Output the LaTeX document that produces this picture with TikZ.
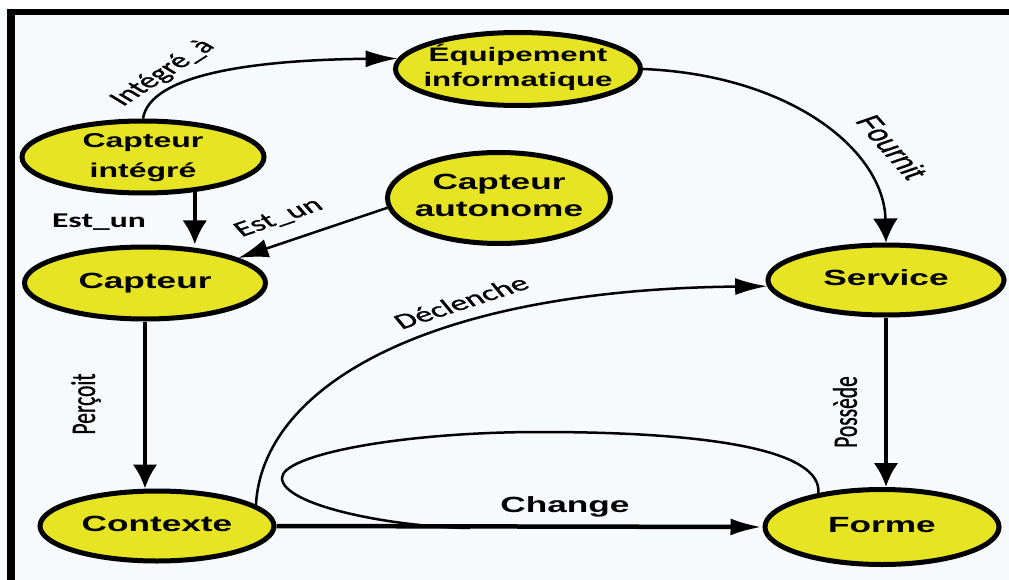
\documentclass[tikz,border=0pt]{standalone}
\usepackage{fontspec}
\usepackage{graphicx}
\setmainfont{Liberation Sans}
\newfontface\lbf{Carlito}[FakeBold=0.9]
\newfontface\lbfb{Carlito Bold}
\newfontface\arr{Liberation Sans}[FakeBold=0.9]
\usetikzlibrary{arrows.meta,shapes.geometric}
\definecolor{bgc}{RGB}{247,250,253}
\definecolor{yel}{RGB}{231,228,35}
\newcommand{\st}[1]{\scalebox{1.6}[1]{#1}}
\newcommand{\ctr}[1]{\makebox[0pt]{\raisebox{\dimexpr(\depth-\height)/2\relax}[0pt][0pt]{#1}}}
\newcommand{\ntext}[3]{\ctr{\st{\fontsize{#1}{#2}\selectfont\bfseries\begin{tabular}{@{}c@{}}#3\end{tabular}}}}
\newcommand{\lab}[3]{\st{\rotatebox{#1}{\fontsize{#2}{#2}\selectfont #3}}}
\tikzset{
  ell/.style={ellipse, draw=black, line width=5pt, fill=yel, inner sep=0pt},
  thickarr/.style={line width=4.5pt},
  thinarr/.style={line width=2.5pt},
  tipv/.style={-{Latex[length=24pt,width=25pt]}},
  tiph/.style={-{Latex[length=32pt,width=17pt]}},
  tipd/.style={-{Latex[length=30pt,width=19pt]}},
  lbl/.style={inner sep=0pt}
}
\begin{document}
\begin{tikzpicture}[x=1pt,y=-1pt]
\useasboundingbox (0,0) rectangle (1009,580);
\fill[bgc] (0,0) rectangle (1009,580);
\fill[white] (0,0) rectangle (1009,9);
% frame
\draw[line width=6pt] (7,12) -- (1009,12);
\draw[line width=8pt] (11,9) -- (11,580);

% nodes
\node[ell, minimum width=245pt, minimum height=73pt] (equip) at (518,69) {\ntext{19.5}{25}{Équipement\\informatique}};
\node[ell, minimum width=242pt, minimum height=72pt] (cint) at (143,157) {\ntext{20}{30}{Capteur\\intégré}};
\node[ell, minimum width=223pt, minimum height=91pt] (caut) at (499,198) {\ntext{22}{27}{Capteur\\autonome}};
\node[ell, minimum width=241pt, minimum height=72pt] (capteur) at (145,283) {\ntext{22}{26}{Capteur}};
\node[ell, minimum width=236pt, minimum height=70pt] (service) at (886,280) {\ntext{22}{26}{Service}};
\node[ell, minimum width=234pt, minimum height=70pt] (contexte) at (157,526) {\ntext{22}{26}{Contexte}};
\node[ell, minimum width=234pt, minimum height=75pt] (forme) at (882,527) {\ntext{22}{26}{Forme}};

% connectors
\draw[thinarr, tiph] (cint.north) .. controls (150,75) and (250,60) .. (equip.175);
\draw[thinarr, tipv] (equip.east) .. controls (790,75) and (884,150) .. (service.north);
\draw[thickarr, tipv] (cint.-34) -- (cint.-34 |- capteur.north);
\draw[thinarr, tipd] (caut.185) -- (capteur.15);
\draw[thickarr, tipv] (capteur.south) -- (capteur.south |- contexte.north);
\draw[thinarr, tiph] (contexte.12) .. controls (262,390) and (420,290) .. (service.183);
\draw[thickarr, tipv] (service.south) -- (service.south |- forme.north);
\draw[thickarr, tiph] (contexte.east) -- (forme.west);
\coordinate (loopend) at (470,528);
\draw[thinarr] (forme.152) .. controls (822,452) and (720,432) .. (540,432)
  .. controls (400,432) and (282,455) .. (282,478)
  .. controls (282,505) and (390,527) .. (loopend);

% labels
\node[lbl] (lIntegre) at (163,73) {\lab{46}{21.5}{\lbf Intégré\_à}};
\node[lbl] (lEstA) at (99,222) {\lab{0}{21}{\lbfb Est\_un}};
\node[lbl] (lEstB) at (279,218) {\lab{29}{21.5}{\lbf Est\_un}};
\node[lbl] (lFournit) at (892,147) {\lab{-61}{22}{\arr Fournit}};
\node[lbl] (lDecl) at (461,302) {\lab{27.5}{21.5}{\lbf Déclenche}};
\node[lbl] (lPercoit) at (86,404) {\lab{90}{21.5}{\lbf Perçoit}};
\node[lbl] (lPossede) at (845,412) {\lab{90}{21.5}{\lbf Possède}};
\node[lbl] (lChange) at (565,507) {\lab{0}{22}{\bfseries Change}};
\end{tikzpicture}
\end{document}
